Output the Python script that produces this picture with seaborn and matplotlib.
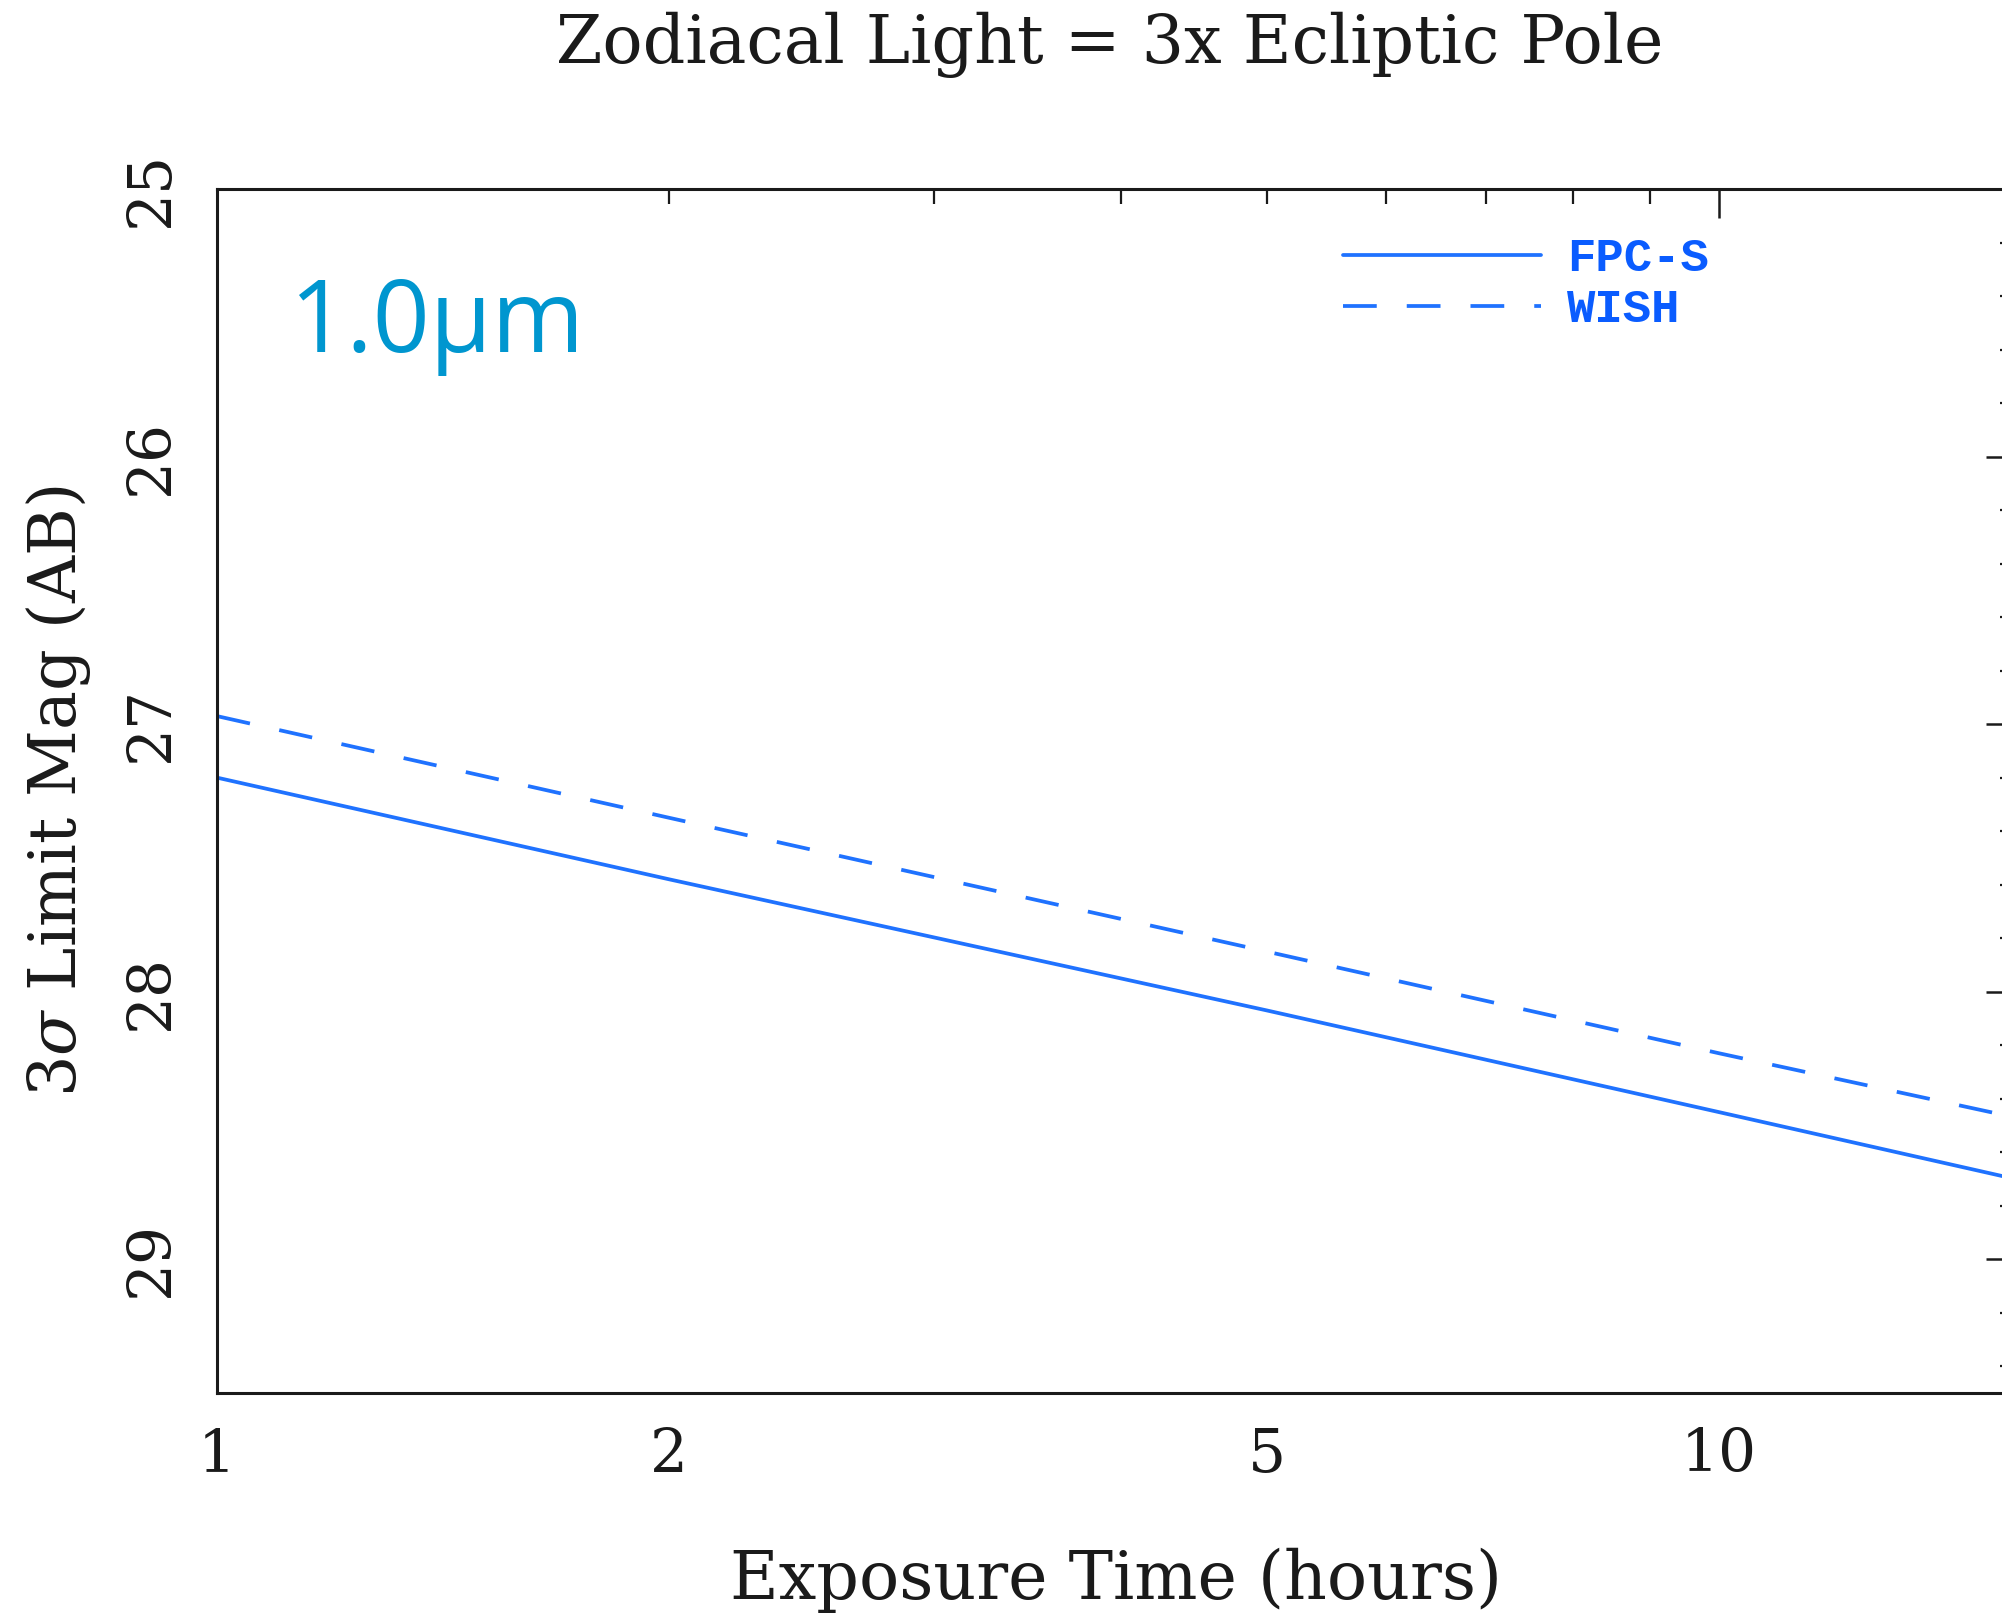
import numpy as np
import pandas as pd
import matplotlib
matplotlib.use("Agg")
import matplotlib.pyplot as plt
from matplotlib.ticker import FixedLocator, NullFormatter, MultipleLocator
from matplotlib.lines import Line2D
import seaborn as sns

# Limiting magnitude vs exposure time, 1.0 micron band
exposure_hours = [1, 2, 5, 10, 15.75]
fpc_s_mag = [27.20, 27.58, 28.07, 28.45, 28.70]
wish_mag = [26.97, 27.35, 27.85, 28.23, 28.47]
instruments = ["FPC-S", "WISH"]

x_tick_values = [1, 2, 5, 10]
x_tick_labels = ["1", "2", "5", "10"]
y_tick_values = [25, 26, 27, 28, 29]

df = pd.DataFrame({
    "Exposure": exposure_hours * 2,
    "Mag": fpc_s_mag + wish_mag,
    "Instrument": [instruments[0]] * len(exposure_hours) + [instruments[1]] * len(exposure_hours),
})

sns.set_theme(style="white")
plt.rcParams["font.family"] = ["DejaVu Serif"]
plt.rcParams["mathtext.fontset"] = "dejavuserif"

line_color = "#1f72ff"
text_blue = "#0a5cff"
ink = "#1a1a1a"

fig = plt.figure(figsize=(20.02, 16.13), dpi=100)
# right spine sits just past the figure edge
ax = fig.add_axes([0.1084, 0.1364, 1.0065 - 0.1084, 0.7464])

sns.lineplot(
    data=df, x="Exposure", y="Mag", style="Instrument",
    dashes={"FPC-S": "", "WISH": (9, 8)},
    color=line_color, linewidth=2.7, ax=ax, legend=False, sort=False,
)

ax.set_xscale("log")
ax.set_xlim(1, 15.75)
ax.set_ylim(29.5, 25)

for side in ["left", "right", "top", "bottom"]:
    ax.spines[side].set_visible(True)
    ax.spines[side].set_color(ink)
    ax.spines[side].set_linewidth(2.2)

ax.xaxis.set_major_locator(FixedLocator([1, 10]))
ax.xaxis.set_minor_locator(FixedLocator([2, 3, 4, 5, 6, 7, 8, 9]))
ax.xaxis.set_major_formatter(NullFormatter())
ax.xaxis.set_minor_formatter(NullFormatter())
ax.yaxis.set_major_locator(FixedLocator(y_tick_values))
ax.yaxis.set_minor_locator(MultipleLocator(0.2))

ax.tick_params(which="both", direction="in", top=True, right=True, colors=ink)
ax.tick_params(which="major", length=21, width=1.8)
ax.tick_params(which="minor", length=11, width=1.6)
ax.tick_params(axis="x", which="both", labelbottom=False)
ax.tick_params(axis="y", which="major", labelsize=43, pad=27, labelrotation=90, labelcolor=ink)
for lbl in ax.get_yticklabels():
    lbl.set_verticalalignment("center")

# x tick numbers, placed under their log positions
for val, txt in zip(x_tick_values, x_tick_labels):
    ax.annotate(txt, xy=(val, 0), xycoords=("data", "axes fraction"),
                xytext=(0, -24), textcoords="offset points",
                ha="center", va="top", fontsize=43, color=ink)

ax.set_xlabel("Exposure Time (hours)", fontsize=48, color=ink)
ax.xaxis.set_label_coords(0.5, -0.156)
ax.xaxis.label.set_va("center")
ax.set_ylabel(r"3$\sigma$ Limit Mag (AB)", fontsize=47, color=ink)
ax.yaxis.set_label_coords(-0.088, 0.5)
ax.yaxis.label.set_va("center")

fig.text(0.5545, 0.972, "Zodiacal Light = 3x Ecliptic Pole", ha="center", va="center",
         fontsize=48, color=ink)

ax.text(0.040, 0.865, "1.0μm", transform=ax.transAxes, ha="left", va="baseline",
        fontsize=72, color="#0096cf", family=["Open Sans", "DejaVu Sans"])

handles = [
    Line2D([], [], color=line_color, lw=2.7, linestyle="-"),
    Line2D([], [], color=line_color, lw=2.7, linestyle=(0, (9, 8))),
]
leg = ax.legend(handles, instruments, loc="upper left", bbox_to_anchor=(0.626, 0.96),
                frameon=False, handlelength=4.2, handletextpad=0.55, labelspacing=0.15,
                borderpad=0, borderaxespad=0,
                prop={"family": "Liberation Mono", "weight": "bold", "size": 34})
for t in leg.get_texts():
    t.set_color(text_blue)

fig.savefig("out.png", dpi=100, facecolor="white")
